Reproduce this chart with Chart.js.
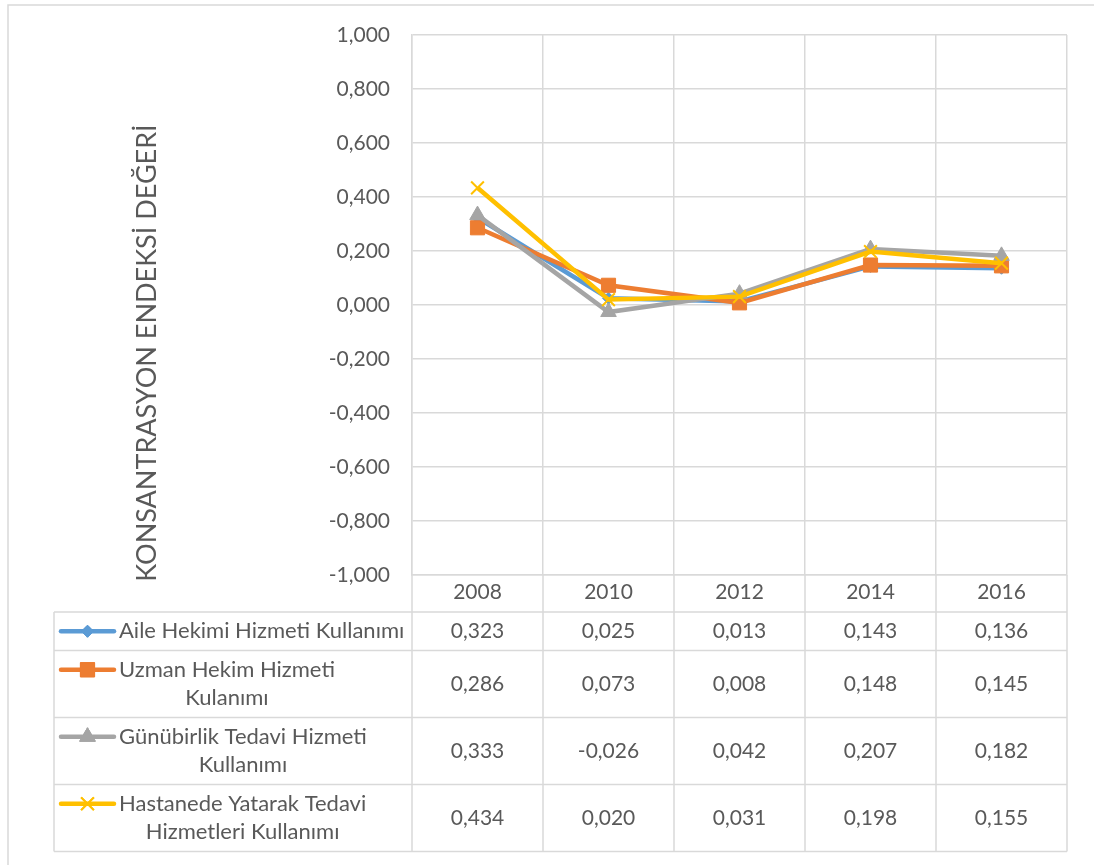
<!DOCTYPE html>
<html>
<head>
<meta charset="utf-8">
<script src="https://cdn.jsdelivr.net/npm/chart.js@4.4.1/dist/chart.umd.min.js"></script>
<style>
html,body{margin:0;padding:0;background:#fff;}
canvas{display:block;}
</style>
</head>
<body>
<canvas id="c" width="1094" height="865"></canvas>
<script>
// ---- data ----
const categories = ['2008', '2010', '2012', '2014', '2016'];
const aileHekimi = [0.323, 0.025, 0.013, 0.143, 0.136];
const uzmanHekim = [0.286, 0.073, 0.008, 0.148, 0.145];
const gunubirlik = [0.333, -0.026, 0.042, 0.207, 0.182];
const hastanede = [0.434, 0.020, 0.031, 0.198, 0.155];
const seriesNames = [
  'Aile Hekimi Hizmeti Kullanımı',
  'Uzman Hekim Hizmeti\nKulanımı',
  'Günübirlik Tedavi Hizmeti\nKullanımı',
  'Hastanede Yatarak Tedavi\nHizmetleri Kullanımı'
];
const axisTitle = 'KONSANTRASYON ENDEKSİ DEĞERİ';
const yMin = -1, yMax = 1, yStep = 0.2;

// ---- styles ----
const FONT = 'Lato, "Open Sans", sans-serif';
const TEXT = '#595959';
const GRID = '#d9d9d9';
const colors = ['#5B9BD5', '#ED7D31', '#A5A5A5', '#FFC000'];
const pointStyles = ['rectRot', 'rect', 'triangle', 'crossRot'];
const pointRadii = [6, 10, 9, 9];
const seriesData = [aileHekimi, uzmanHekim, gunubirlik, hastanede];

function fmt(v) {
  if (Math.abs(v) < 1e-9) v = 0;
  return v.toFixed(3).replace('.', ',');
}

const datasets = seriesData.map((d, i) => ({
  label: seriesNames[i].replace('\n', ' '),
  data: d,
  borderColor: colors[i],
  backgroundColor: colors[i],
  borderWidth: 4.5,
  pointStyle: pointStyles[i],
  pointRadius: pointRadii[i],
  pointBorderWidth: pointStyles[i] === 'crossRot' ? 2 : 1,
  pointBorderColor: colors[i],
  pointBackgroundColor: colors[i],
  tension: 0,
  order: 4 - i
}));

const LINE_H = 28.5;
const HEADER_H = 37;

const framePlugin = {
  id: 'frame',
  beforeDraw(chart) {
    const ctx = chart.ctx;
    ctx.save();
    ctx.fillStyle = '#fff';
    ctx.fillRect(0, 0, chart.width, chart.height);
    ctx.strokeStyle = GRID;
    ctx.lineWidth = 1.5;
    ctx.beginPath();
    ctx.moveTo(8, chart.height);
    ctx.lineTo(8, 5);
    ctx.lineTo(chart.width, 5);
    ctx.stroke();
    ctx.restore();
  }
};

function drawMarker(ctx, style, r, x, y, color) {
  ctx.save();
  ctx.fillStyle = color;
  ctx.strokeStyle = color;
  if (Chart.helpers && Chart.helpers.drawPoint) {
    ctx.lineWidth = style === 'crossRot' ? 2 : 1;
    Chart.helpers.drawPoint(ctx, {pointStyle: style, radius: r, rotation: 0, borderWidth: ctx.lineWidth}, x, y);
    ctx.fill();
    ctx.stroke();
  }
  ctx.restore();
}

const tablePlugin = {
  id: 'dataTable',
  afterDraw(chart) {
    const ctx = chart.ctx;
    const area = chart.chartArea;
    const xs = chart.scales.x;
    const colW = xs.getPixelForValue(1) - xs.getPixelForValue(0);
    const tableLeft = 54;
    const headerBottom = area.bottom + HEADER_H;
    const rowHeights = seriesNames.map(n => 10 + LINE_H * n.split('\n').length);
    let tableBottom = headerBottom + rowHeights.reduce((a, b) => a + b, 0);

    ctx.save();
    ctx.strokeStyle = GRID;
    ctx.lineWidth = 1.5;
    for (let i = 0; i <= categories.length; i++) {
      const x = xs.getPixelForValue(0) - colW / 2 + i * colW;
      ctx.beginPath();
      ctx.moveTo(x, area.bottom);
      ctx.lineTo(x, tableBottom);
      ctx.stroke();
    }
    ctx.beginPath();
    ctx.moveTo(tableLeft, headerBottom);
    ctx.lineTo(tableLeft, tableBottom);
    ctx.stroke();
    let y = headerBottom;
    const ys = [y];
    rowHeights.forEach(h => { y += h; ys.push(y); });
    ys.forEach(yy => {
      ctx.beginPath();
      ctx.moveTo(tableLeft, yy);
      ctx.lineTo(area.right, yy);
      ctx.stroke();
    });

    ctx.fillStyle = TEXT;
    ctx.textBaseline = 'middle';
    let top = headerBottom;
    seriesNames.forEach((name, i) => {
      const h = rowHeights[i];
      const lines = name.split('\n');
      const firstY = top + h / 2 - (lines.length - 1) * LINE_H / 2;
      ctx.save();
      ctx.strokeStyle = colors[i];
      ctx.lineWidth = 4.5;
      ctx.lineCap = 'round';
      ctx.beginPath();
      ctx.moveTo(61, firstY);
      ctx.lineTo(114, firstY);
      ctx.stroke();
      ctx.restore();
      drawMarker(ctx, pointStyles[i], pointRadii[i], 87.5, firstY, colors[i]);
      ctx.fillStyle = TEXT;
      ctx.font = '22px ' + FONT;
      const widths = lines.map(l => ctx.measureText(l).width);
      const blockW = Math.max(...widths);
      ctx.textAlign = 'center';
      lines.forEach((l, k) => {
        ctx.fillText(l, 119 + blockW / 2, firstY + k * LINE_H);
      });
      ctx.font = '21px ' + FONT;
      seriesData[i].forEach((v, j) => {
        ctx.fillText(fmt(v), xs.getPixelForValue(j), top + h / 2);
      });
      top += h;
    });

    ctx.save();
    ctx.translate(area.left - 265, area.top + 318);
    ctx.rotate(-Math.PI / 2);
    ctx.font = '27px ' + FONT;
    ctx.fillStyle = TEXT;
    ctx.textAlign = 'center';
    ctx.textBaseline = 'middle';
    ctx.fillText(axisTitle, 0, 0);
    ctx.restore();
    ctx.restore();
  }
};

new Chart(document.getElementById('c'), {
  type: 'line',
  data: { labels: categories, datasets },
  options: {
    responsive: false,
    animation: false,
    devicePixelRatio: 1,
    layout: { padding: { left: 0, right: 27, top: 35, bottom: 0 } },
    plugins: { legend: { display: false }, tooltip: { enabled: false } },
    scales: {
      x: {
        offset: true,
        grid: { color: GRID, lineWidth: 1.5, offset: true, drawTicks: false },
        border: { color: GRID, width: 1.5 },
        ticks: { color: TEXT, font: { family: FONT, size: 21 }, padding: 5, maxRotation: 0 },
        afterFit(s) { s.height = 290; }
      },
      y: {
        min: yMin, max: yMax,
        grid: { color: GRID, lineWidth: 1.5, drawTicks: false },
        border: { color: GRID, width: 1.5 },
        ticks: {
          stepSize: yStep, color: TEXT, font: { family: FONT, size: 21 }, padding: 22,
          callback: v => fmt(v)
        },
        afterFit(s) { s.width = 412; }
      }
    }
  },
  plugins: [framePlugin, tablePlugin]
});
</script>
</body>
</html>
